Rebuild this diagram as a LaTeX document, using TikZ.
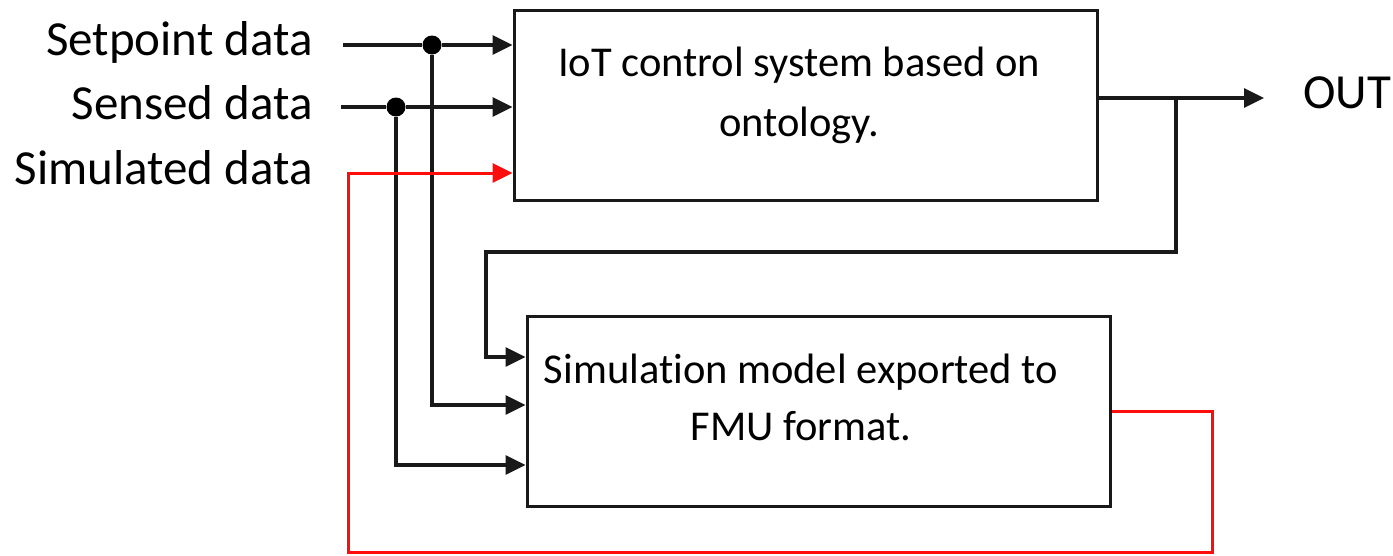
\documentclass[tikz,border=0pt]{standalone}
\usepackage{fontspec}
\setmainfont{Carlito}[Ligatures=NoCommon]
\usetikzlibrary{arrows.meta}
\begin{document}
\begin{tikzpicture}[x=1pt,y=-1pt,
  wire/.style={line width=3.3pt,draw=black!90},
  redwire/.style={line width=3pt,draw=red!95!white},
  arr/.style={-{Triangle[length=20pt,width=19pt]}},
  block/.style={draw=black!90,line width=3pt,minimum width=583pt,minimum height=190pt,inner sep=0pt},
  boxtext/.style={font=\fontsize{42.5}{50}\selectfont,inner sep=0pt,anchor=base},
  lbl/.style={font=\fontsize{49}{56}\selectfont,inner sep=0pt},
  junction/.style={circle,fill=black,inner sep=0pt,minimum size=19pt}]
\useasboundingbox (0,0) rectangle (1393,555);
% blocks
\node[block] (iot) at (805.5,105) {};
\node[boxtext] (iot1) at (799,76) {IoT control system based on};
\node[boxtext] (iot2) at (799,136) {ontology.};
\node[block] (sim) at (818.5,411) {};
\node[boxtext] (sim1) at (801,383) {Simulation model exported to};
\node[boxtext] (sim2) at (801,440) {FMU format.};
% input labels
\node[lbl,anchor=base east] (sp) at (313,55) {Setpoint data};
\node[lbl,anchor=base east] (se) at (313,119) {Sensed data};
\node[lbl,anchor=base east] (sd) at (313,184) {Simulated data};
\node[lbl,anchor=base west] (out) at (1303,108) {OUT};
% junctions
\node[junction] (j1) at (432,45) {};
\node[junction] (j2) at (396,107) {};
\coordinate (spstart) at (343,45);
\coordinate (sestart) at (341,107);
\coordinate (ojunc) at (1176,98);
\coordinate (outend) at (1264,98);
% heights of the inputs of the simulation block
\coordinate (fbin) at (sim.west |- {(0,357)});
\coordinate (spin) at (sim.west |- {(0,405)});
\coordinate (sein) at (sim.west |- {(0,465)});
\coordinate (simout) at (sim.east |- {(0,411)});
\coordinate (sdin) at (iot.west |- {(0,173)});
% inputs to the IoT block
\draw[wire] (spstart) -- (j1);
\draw[wire,arr] (j1) -- (j1 -| iot.west);
\draw[wire] (sestart) -- (j2);
\draw[wire,arr] (j2) -- (j2 -| iot.west);
% branches down to the simulation block
\draw[wire,arr] (j1) |- (spin);
\draw[wire,arr] (j2) |- (sein);
% output and feedback
\draw[wire,arr] (iot.east |- ojunc) -- (outend);
\draw[wire,arr] (ojunc) -- (1176,252) -- (486,252) |- (fbin);
% simulated data loop
\draw[redwire,arr] (simout) -- (1212,411) -- (1212,552) -- (348,552) -- (348,173) -- (sdin);
\end{tikzpicture}
\end{document}
